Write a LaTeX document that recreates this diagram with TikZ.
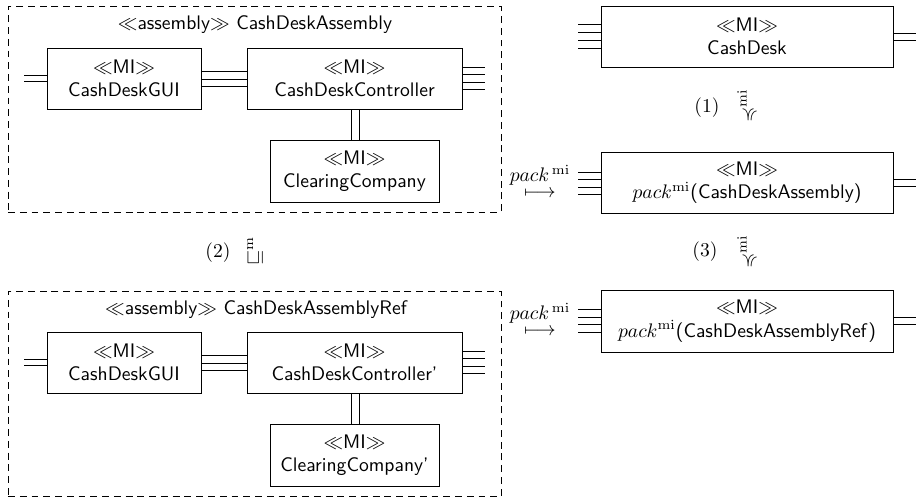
\documentclass[tikz,border=0pt]{standalone}
\usepackage{amssymb}
\begin{document}
\begin{tikzpicture}[x=0.51pt,y=-0.51pt,
  every node/.style={font=\sffamily},
  comp/.style={draw, inner sep=0pt, align=center, minimum height=31.1pt},
  asm/.style={draw, dash pattern=on 3.5pt off 2.5pt, inner sep=0pt,
              minimum width=251.43pt, minimum height=104.8pt},
  packlbl/.style={inner sep=0pt, anchor=base}]
\useasboundingbox (0,0) rectangle (919,500);

% ---------- upper assembly ----------
\node[asm] (asmA) at (254.5,109.5) {};
\node (asmAt) at (255,25) {$\ll$assembly$\gg$\ CashDeskAssembly};
\node[comp, minimum width=78.54pt] (guiA) at (124,78.5) {$\ll$MI$\gg$\\CashDeskGUI};
\node[comp, minimum width=109.65pt] (ctrlA) at (354.5,78.5) {$\ll$MI$\gg$\\CashDeskController};
\node[comp, minimum width=86.19pt, minimum height=31.6pt] (ccA) at (354.5,171) {$\ll$MI$\gg$\\ClearingCompany};
\foreach \y in {75,81} \draw (guiA.west |- 0,\y) -- ++(-23,0);
\foreach \y in {71,79,86} \draw (guiA.east |- 0,\y) -- (ctrlA.west |- 0,\y);
\foreach \x in {351,359} \draw (ctrlA.south -| \x,0) -- (ccA.north -| \x,0);
\foreach \y in {67,74,82,89} \draw (ctrlA.east |- 0,\y) -- ++(23,0);

% ---------- lower assembly ----------
\node[asm] (asmB) at (254.5,394) {};
\node (asmBt) at (256,310) {$\ll$assembly$\gg$\ CashDeskAssemblyRef};
\node[comp, minimum width=78.54pt] (guiB) at (124,362.5) {$\ll$MI$\gg$\\CashDeskGUI};
\node[comp, minimum width=109.65pt] (ctrlB) at (354.5,362.5) {$\ll$MI$\gg$\\CashDeskController'};
\node[comp, minimum width=86.19pt, minimum height=31.6pt] (ccB) at (354.5,455) {$\ll$MI$\gg$\\ClearingCompany'};
\foreach \y in {359,365} \draw (guiB.west |- 0,\y) -- ++(-23,0);
\foreach \y in {355,363,370} \draw (guiB.east |- 0,\y) -- (ctrlB.west |- 0,\y);
\foreach \x in {351,359} \draw (ctrlB.south -| \x,0) -- (ccB.north -| \x,0);
\foreach \y in {351,358,366,373} \draw (ctrlB.east |- 0,\y) -- ++(23,0);

% ---------- right column ----------
\node[comp, minimum width=148.92pt] (cd) at (747,36.5) {$\ll$MI$\gg$\\CashDesk};
\foreach \y in {24,32,40,48} \draw (cd.west |- 0,\y) -- ++(-23,0);
\foreach \y in {33,40} \draw (cd.east |- 0,\y) -- ++(23,0);

\node[comp, minimum width=148.92pt] (pa) at (747,182.5) {$\ll$MI$\gg$\\$pack^{\mathrm{mi}}$(CashDeskAssembly)};
\foreach \y in {172,179,187,194} \draw (pa.west |- 0,\y) -- ++(-23,0);
\foreach \y in {179,186} \draw (pa.east |- 0,\y) -- ++(23,0);

\node[comp, minimum width=148.92pt, minimum height=31.6pt] (pb) at (747,321) {$\ll$MI$\gg$\\$pack^{\mathrm{mi}}$(CashDeskAssemblyRef)};
\foreach \y in {309,317,324,332} \draw (pb.west |- 0,\y) -- ++(-23,0);
\foreach \y in {317,324} \draw (pb.east |- 0,\y) -- ++(23,0);

% ---------- relation labels ----------
\node (l1) at (707,108) {$(1)$};
\node (s1) at (747,106) {\rotatebox{90}{$\preccurlyeq^{\mathrm{mi}}$}};
\node (l2) at (218,253) {$(2)$};
\node (s2) at (255,251) {\rotatebox{90}{$\sqsubseteq^{\mathrm{m}}$}};
\node (l3) at (705,252) {$(3)$};
\node (s3) at (747,252) {\rotatebox{90}{$\preccurlyeq^{\mathrm{mi}}$}};

\node[packlbl] (pk1) at (540,182) {$pack^{\,\mathrm{mi}}$};
\node[packlbl] (pk1a) at (540,198) {$\smash{\longmapsto}$};
\node[packlbl] (pk2) at (540,320) {$pack^{\,\mathrm{mi}}$};
\node[packlbl] (pk2a) at (540,336) {$\smash{\longmapsto}$};
\end{tikzpicture}
\end{document}
